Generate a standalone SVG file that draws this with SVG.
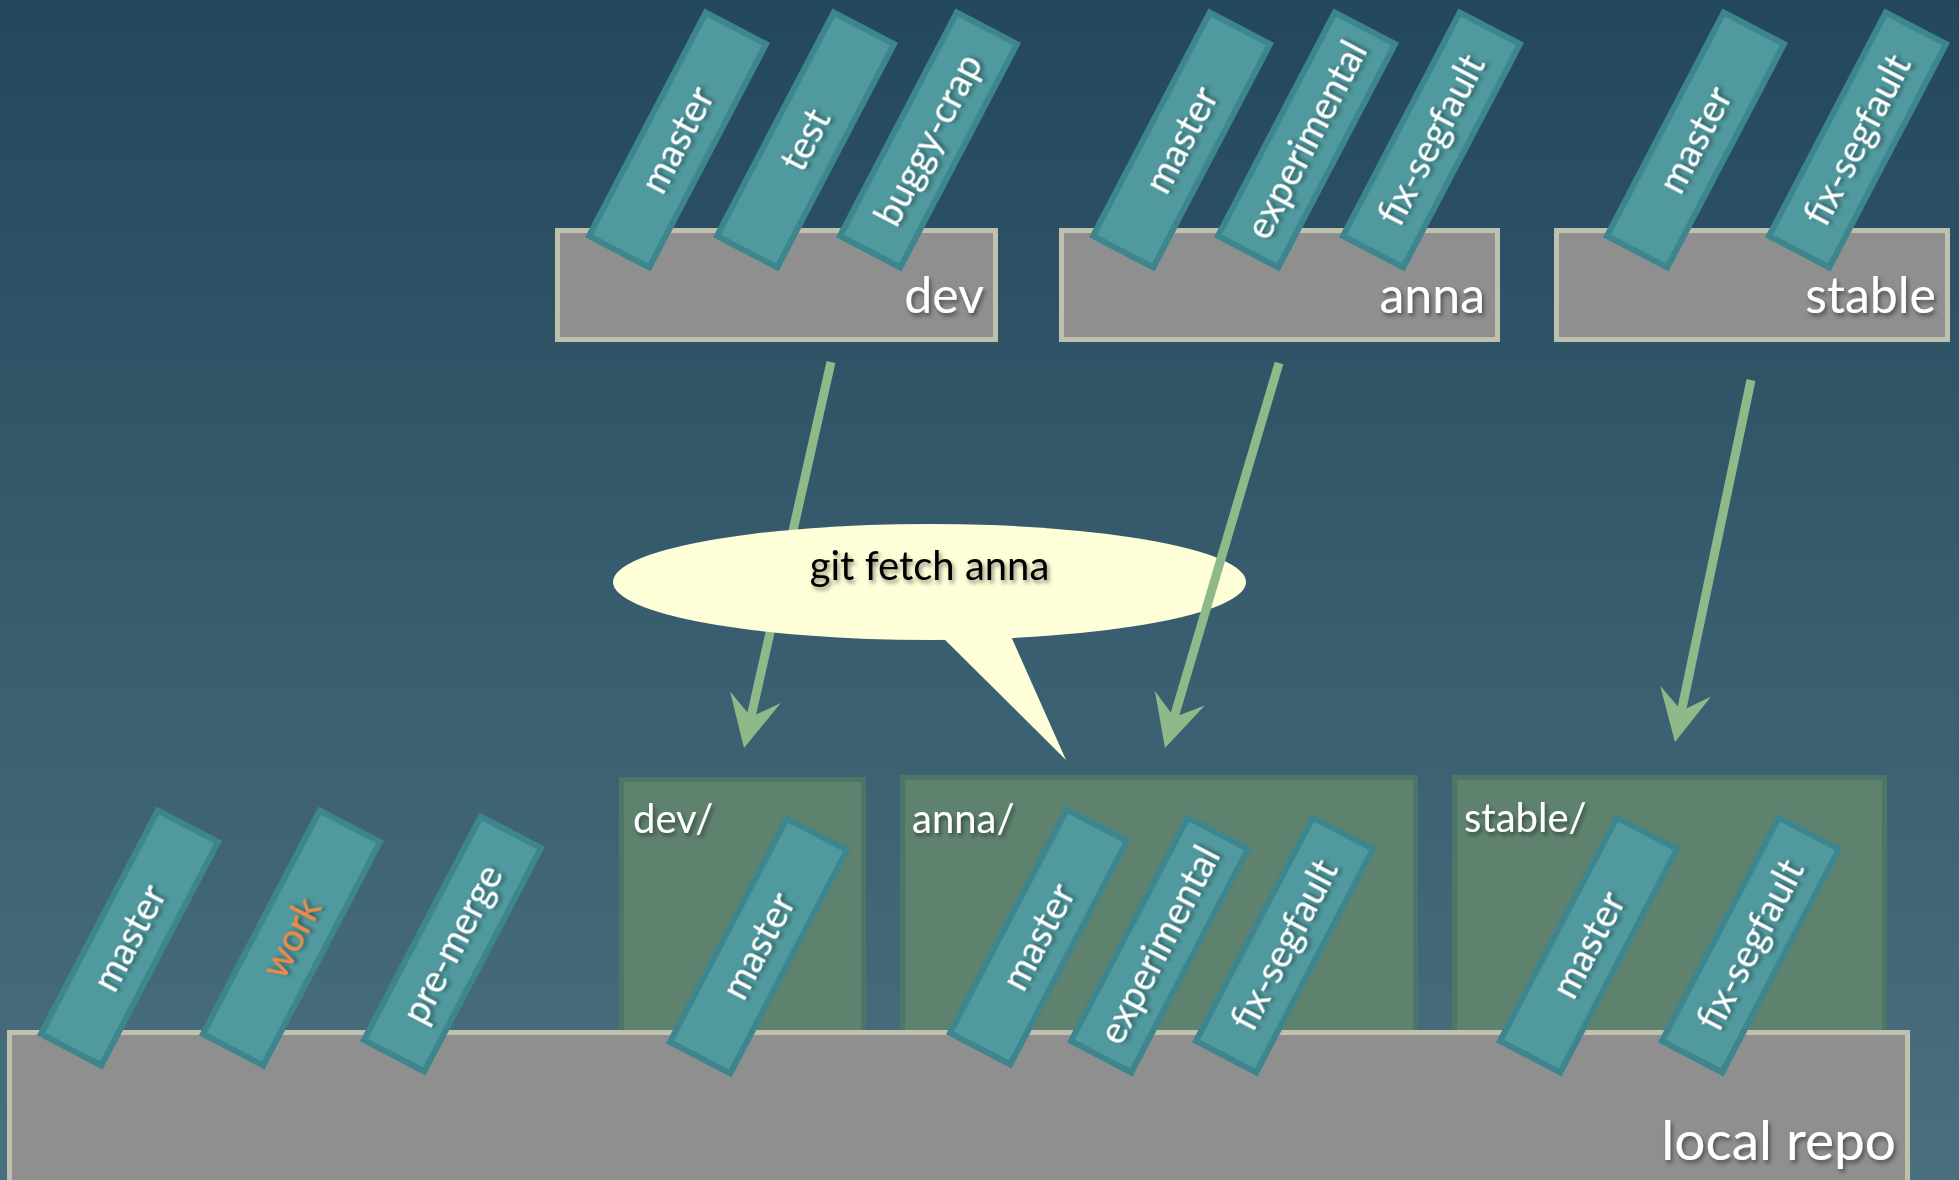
<svg xmlns="http://www.w3.org/2000/svg" width="1959" height="1180" viewBox="0 0 1959 1180">
<defs>
<linearGradient id="bg" x1="0" y1="0" x2="0" y2="1">
<stop offset="0" stop-color="#23485c"/>
<stop offset="1" stop-color="#4a707f"/>
</linearGradient>
<filter id="sh" x="-20%" y="-20%" width="140%" height="140%">
<feDropShadow dx="2" dy="3" stdDeviation="2" flood-color="#000" flood-opacity="0.45"/>
</filter>
<marker id="ah" markerUnits="userSpaceOnUse" viewBox="0 -30 60 60" markerWidth="60" markerHeight="60" refX="27" refY="0" orient="auto">
<path d="M0,-26 L52,0 L0,26 L20,0 Z" fill="#90b98a"/>
</marker>
<g id="br">
<rect x="-126" y="-34" width="252" height="68" fill="#509a9f" stroke="#3e868e" stroke-width="6"/>
</g>
</defs>
<style>
.remote{fill:#8f8f8f;stroke:#c0c0ae;stroke-width:5}
.dir{fill:#5f826f;stroke:#4d7568;stroke-width:5}
.big{font-family:Lato,"Open Sans",sans-serif;font-size:50px;fill:#fff;filter:url(#sh)}
.dlab{font-family:Lato,"Open Sans",sans-serif;font-size:40px;fill:#fff;filter:url(#sh)}
.bl{font-family:Lato,"Open Sans",sans-serif;font-size:38px;fill:#fff;text-anchor:middle;filter:url(#sh)}
.arr{stroke:#90b98a;stroke-width:9;fill:none;marker-end:url(#ah)}
</style>
<rect width="1959" height="1180" fill="url(#bg)"/>

<g id="remote-dev">
<rect class="remote" x="557.5" y="230.5" width="438" height="109"/>
<g transform="translate(677.5,140) rotate(-62.4)"><use href="#br"/><text class="bl" y="13">master</text></g>
<g transform="translate(805.5,140) rotate(-62.4)"><use href="#br"/><text class="bl" y="13">test</text></g>
<g transform="translate(928.5,140) rotate(-62.4)"><use href="#br"/><text class="bl" y="13">buggy-crap</text></g>
<text class="big" x="984" y="313" text-anchor="end">dev</text>
</g>

<g id="remote-anna">
<rect class="remote" x="1061.5" y="230.5" width="436" height="109"/>
<g transform="translate(1181.5,140) rotate(-62.4)"><use href="#br"/><text class="bl" y="13">master</text></g>
<g transform="translate(1306.5,140) rotate(-62.4)"><use href="#br"/><text class="bl" y="13">experimental</text></g>
<g transform="translate(1431.5,140) rotate(-62.4)"><use href="#br"/><text class="bl" y="13">fix-segfault</text></g>
<text class="big" x="1485" y="313" text-anchor="end">anna</text>
</g>

<g id="remote-stable">
<rect class="remote" x="1556.5" y="230.5" width="391" height="109"/>
<g transform="translate(1695.5,140) rotate(-62.4)"><use href="#br"/><text class="bl" y="13">master</text></g>
<g transform="translate(1857.5,140) rotate(-62.4)"><use href="#br"/><text class="bl" y="13">fix-segfault</text></g>
<text class="big" x="1936" y="313" text-anchor="end">stable</text>
</g>

<g id="connectors">
<line class="arr" x1="831" y1="362" x2="749.5" y2="723.6"/>
</g>

<g id="bubble">
<path d="M930,625 L1066,760 L1006,625 Z" fill="#fefed8"/>
<ellipse cx="929.5" cy="582" rx="316.5" ry="58" fill="#fefed8"/>
<text x="929.5" y="580" text-anchor="middle" font-family="Lato,'Open Sans',sans-serif" font-size="40" fill="#000" filter="url(#sh)">git fetch anna</text>
</g>

<g id="connectors-2">
<line class="arr" x1="1279" y1="363" x2="1172.1" y2="724"/>
<line class="arr" x1="1751" y1="380" x2="1680.1" y2="717.5"/>
</g>

<g id="dir-dev">
<rect class="dir" x="621.5" y="779.5" width="242" height="300"/>
<text class="dlab" x="633" y="833">dev/</text>
</g>
<g id="dir-anna">
<rect class="dir" x="902.5" y="777.5" width="513" height="300"/>
<text class="dlab" x="912" y="833">anna/</text>
</g>
<g id="dir-stable">
<rect class="dir" x="1454.5" y="777.5" width="430" height="300"/>
<text class="dlab" x="1464" y="832">stable/</text>
</g>

<g id="local-repo">
<rect class="remote" x="9.5" y="1032.5" width="1898" height="160"/>
<text class="big" x="1896" y="1160" text-anchor="end" style="font-size:55px">local repo</text>
</g>

<g id="local-master" transform="translate(129.5,938) rotate(-62.4)"><use href="#br"/><text class="bl" y="13">master</text></g>
<g id="local-work" transform="translate(291.5,938) rotate(-62.4)"><use href="#br"/><text class="bl" y="13" style="fill:#f28a45">work</text></g>
<g id="local-pre-merge" transform="translate(452.5,944) rotate(-62.4)"><use href="#br"/><text class="bl" y="13">pre-merge</text></g>
<g id="dev-master" transform="translate(758.5,946) rotate(-62.4)"><use href="#br"/><text class="bl" y="13">master</text></g>
<g id="anna-master" transform="translate(1038.5,937) rotate(-62.4)"><use href="#br"/><text class="bl" y="13">master</text></g>
<g id="anna-experimental" transform="translate(1159.5,945) rotate(-62.4)"><use href="#br"/><text class="bl" y="13">experimental</text></g>
<g id="anna-fix-segfault" transform="translate(1284.5,945) rotate(-62.4)"><use href="#br"/><text class="bl" y="13">fix-segfault</text></g>
<g id="stable-master" transform="translate(1588.5,945) rotate(-62.4)"><use href="#br"/><text class="bl" y="13">master</text></g>
<g id="stable-fix-segfault" transform="translate(1750.5,945) rotate(-62.4)"><use href="#br"/><text class="bl" y="13">fix-segfault</text></g>
</svg>
